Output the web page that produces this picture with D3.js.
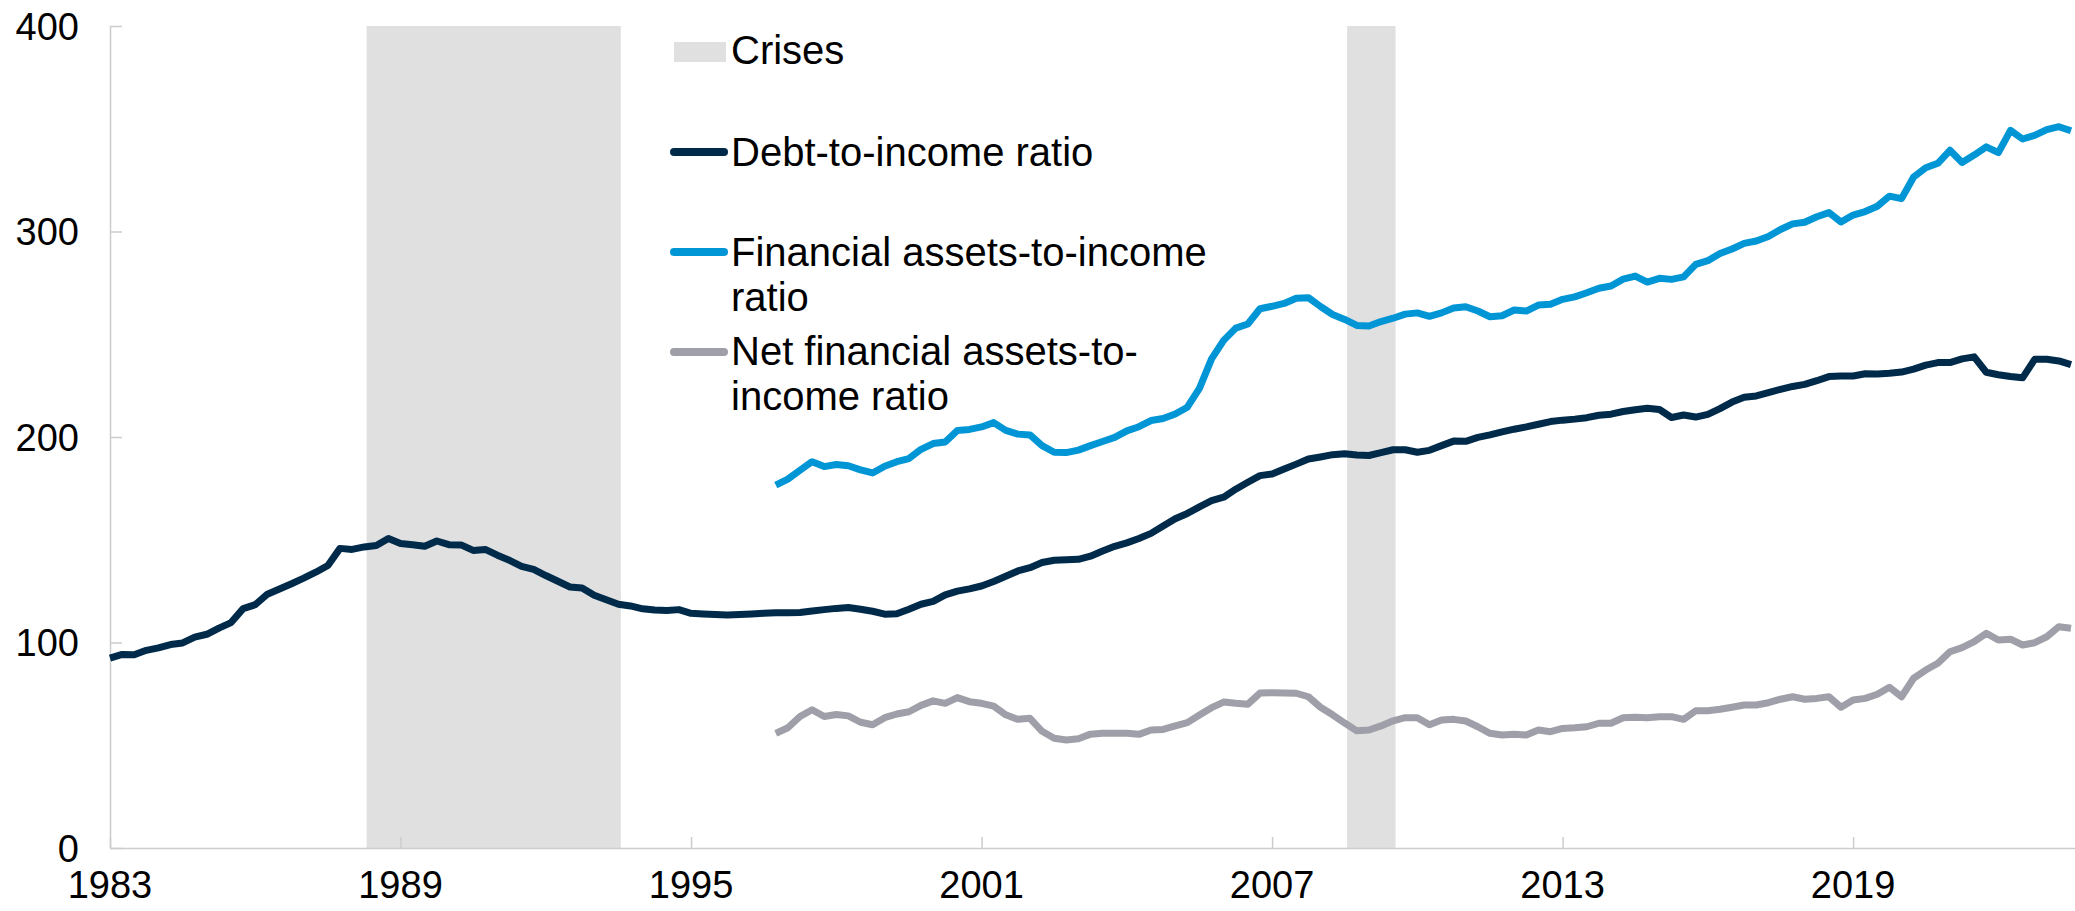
<!DOCTYPE html>
<html>
<head>
<meta charset="utf-8">
<script src="https://cdn.jsdelivr.net/npm/d3@7"></script>
<style>
  html, body { margin: 0; padding: 0; background: #ffffff; }
  svg { display: block; font-family: "Liberation Sans", Arial, Helvetica, sans-serif; }
</style>
</head>
<body>
<svg id="chart" width="2075" height="911"></svg>
<script>
// Household balance-sheet ratios, quarterly, per cent of disposable income
const firstYear = 1983;            // first quarter of the debt series (1983Q1)
const assetsFirstYear = 1996.75;   // first quarter of the asset series (1996Q4)

const debtToIncome = [
  92.4, 94.2, 94.0, 96.2, 97.4, 99.0, 99.8, 102.6, 104.0, 107.0, 109.7, 116.5,
  118.4, 123.5, 126.0, 128.6, 131.3, 134.2, 137.5, 145.8, 145.3, 146.5, 147.2, 150.6,
  148.2, 147.6, 146.8, 149.4, 147.6, 147.5, 144.8, 145.3, 142.5, 140.0, 137.0, 135.6,
  132.6, 129.8, 127.0, 126.5, 123.0, 120.8, 118.6, 117.8, 116.4, 115.8, 115.6, 116.0,
  114.2, 113.9, 113.6, 113.4, 113.6, 113.9, 114.2, 114.5, 114.5, 114.6, 115.3, 116.0,
  116.6, 117.0, 116.2, 115.2, 113.8, 114.0, 116.2, 118.6, 120.0, 123.2, 125.0, 126.1,
  127.5, 129.7, 132.2, 134.8, 136.4, 138.9, 140.0, 140.3, 140.5, 142.0, 144.5, 146.8,
  148.5, 150.6, 153.1, 156.7, 160.2, 162.8, 166.0, 169.0, 170.7, 174.6, 178.0, 181.2,
  182.0, 184.4, 186.8, 189.3, 190.3, 191.4, 191.8, 191.2, 191.0, 192.4, 193.8, 193.8,
  192.6, 193.5, 195.8, 198.0, 197.9, 199.8, 201.0, 202.5, 203.8, 204.9, 206.2, 207.5,
  208.2, 208.7, 209.4, 210.6, 211.1, 212.4, 213.3, 214.0, 213.4, 209.5, 210.7, 209.7,
  211.0, 213.8, 217.0, 219.3, 220.0, 221.6, 223.2, 224.6, 225.6, 227.4, 229.4, 229.7,
  229.7, 230.8, 230.7, 231.0, 231.6, 233.0, 235.0, 236.2, 236.2, 238.0, 239.0, 231.5,
  230.3, 229.4, 228.8, 237.8, 237.8, 237.0, 235.2
];

const financialAssetsToIncome = [
  176.6, 179.5, 183.8, 188.0, 185.6, 186.6, 186.0, 184.0, 182.5, 185.8, 188.0, 189.5,
  194.0, 196.8, 197.6, 203.2, 203.7, 204.9, 207.0, 203.2, 201.4, 201.0, 195.8, 192.6,
  192.4, 193.6, 195.8, 197.8, 199.8, 203.0, 205.0, 208.0, 209.0, 211.2, 214.5, 223.7,
  238.0, 247.0, 253.0, 255.0, 262.4, 263.6, 265.0, 267.5, 267.8, 263.5, 259.6, 257.2,
  254.3, 254.0, 256.2, 257.8, 259.8, 260.4, 258.7, 260.4, 262.8, 263.4, 261.3, 258.5,
  259.0, 261.8, 261.3, 264.2, 264.6, 267.0, 268.2, 270.2, 272.4, 273.5, 276.8, 278.3,
  275.4, 277.2, 276.7, 277.9, 284.0, 285.8, 289.3, 291.5, 294.2, 295.4, 297.6, 301.0,
  303.7, 304.5, 307.2, 309.2, 304.6, 308.0, 309.7, 312.3, 317.2, 316.0, 326.5, 331.0,
  333.2, 339.5, 333.6, 337.2, 341.2, 338.4, 349.2, 345.0, 346.8, 349.6, 351.0, 349.0
];

const netFinancialAssetsToIncome = [
  55.8, 58.5, 64.0, 67.3, 64.0, 65.0, 64.3, 61.2, 60.0, 63.4, 65.2, 66.3,
  69.4, 71.6, 70.4, 73.2, 71.2, 70.4, 69.0, 64.8, 62.6, 63.1, 56.8, 53.4,
  52.6, 53.2, 55.4, 55.8, 55.8, 55.8, 55.3, 57.4, 57.7, 59.4, 61.0, 64.7,
  68.3, 71.0, 70.4, 70.0, 75.4, 75.6, 75.4, 75.3, 73.6, 68.5, 64.8, 60.8,
  57.0, 57.4, 59.4, 61.9, 63.4, 63.4, 60.0, 62.3, 62.6, 61.8, 59.0, 55.8,
  55.0, 55.3, 55.0, 57.4, 56.6, 58.2, 58.5, 59.0, 60.7, 60.7, 63.4, 63.6,
  63.4, 63.9, 63.9, 62.6, 66.8, 66.8, 67.5, 68.5, 69.6, 69.6, 70.7, 72.4,
  73.6, 72.4, 72.8, 73.6, 68.5, 72.0, 72.8, 74.8, 78.2, 73.6, 82.6, 86.6,
  89.9, 95.5, 97.5, 100.4, 104.5, 101.2, 101.6, 98.8, 99.9, 102.8, 107.7, 106.9
];

// Crisis periods (decimal years)
const crisisStart = [1988.3, 2008.55];
const crisisEnd   = [1993.55, 2009.55];

const xTickYears = [1983, 1989, 1995, 2001, 2007, 2013, 2019];
const yTicks = [0, 100, 200, 300, 400];

const legendLabels = [
  ["Crises"],
  ["Debt-to-income ratio"],
  ["Financial assets-to-income", "ratio"],
  ["Net financial assets-to-", "income ratio"]
];

const colors = {
  crisis: "#e0e0e0",
  debt: "#002a4a",
  assets: "#0096d6",
  net: "#9e9fa8",
  axis: "#cccccc",
  text: "#000000"
};

// ---- layout ----
const plot = { left: 110, right: 2071, top: 26, bottom: 848 };
const lastYear = firstYear + (debtToIncome.length - 1) / 4;

const x = d3.scaleLinear().domain([firstYear, lastYear]).range([plot.left, plot.right]);
const y = d3.scaleLinear().domain([0, 400]).range([plot.bottom, plot.top]);

const svg = d3.select("#chart");

// crisis shading
svg.append("g").selectAll("rect")
  .data(crisisStart.map((s, i) => ({ s, e: crisisEnd[i] })))
  .join("rect")
  .attr("x", d => x(d.s))
  .attr("width", d => x(d.e) - x(d.s))
  .attr("y", y(400))
  .attr("height", y(0) - y(400))
  .attr("fill", colors.crisis);

// y axis (ticks pointing into the plot)
const yAxis = svg.append("g")
  .attr("transform", `translate(${plot.left},0)`)
  .call(d3.axisRight(y).tickValues(yTicks).tickSize(12).tickFormat(""));
yAxis.select(".domain").attr("stroke", colors.axis).attr("stroke-width", 1.5)
  .attr("d", `M0.5,${plot.top}V${plot.bottom}`);
yAxis.selectAll(".tick line").attr("stroke", colors.axis).attr("stroke-width", 1.5);

svg.append("g").selectAll("text")
  .data(yTicks)
  .join("text")
  .attr("x", 79)
  .attr("y", d => y(d))
  .attr("dy", "0.36em")
  .attr("text-anchor", "end")
  .attr("font-size", 38)
  .attr("fill", colors.text)
  .text(d => d);

// x axis (ticks pointing up)
const xAxis = svg.append("g")
  .attr("transform", `translate(0,${plot.bottom})`)
  .call(d3.axisTop(x).tickValues(xTickYears).tickSize(11).tickFormat(""));
xAxis.select(".domain").attr("stroke", colors.axis).attr("stroke-width", 1.5)
  .attr("d", `M${plot.left},0.5H${2075}`);
xAxis.selectAll(".tick line").attr("stroke", colors.axis).attr("stroke-width", 1.5);

svg.append("g").selectAll("text")
  .data(xTickYears)
  .join("text")
  .attr("x", d => x(d))
  .attr("y", 898)
  .attr("text-anchor", "middle")
  .attr("font-size", 38)
  .attr("fill", colors.text)
  .text(d => d);

// series lines
const line = d3.line()
  .x(d => x(d.t))
  .y(d => y(d.v));

const toPoints = (vals, start) => vals.map((v, i) => ({ t: start + i / 4, v }));

const series = [
  { data: toPoints(debtToIncome, firstYear), color: colors.debt },
  { data: toPoints(financialAssetsToIncome, assetsFirstYear), color: colors.assets },
  { data: toPoints(netFinancialAssetsToIncome, assetsFirstYear), color: colors.net }
];

svg.append("g").selectAll("path")
  .data(series)
  .join("path")
  .attr("d", d => line(d.data))
  .attr("fill", "none")
  .attr("stroke", d => d.color)
  .attr("stroke-width", 7)
  .attr("stroke-linejoin", "round");

// legend
const legend = svg.append("g").attr("font-size", 40).attr("fill", colors.text);
legend.append("rect")
  .attr("x", 674).attr("y", 42).attr("width", 52).attr("height", 20)
  .attr("fill", colors.crisis);

const legendLines = [
  { y: 152, color: colors.debt },
  { y: 252, color: colors.assets },
  { y: 352, color: colors.net }
];
legend.selectAll("line")
  .data(legendLines)
  .join("line")
  .attr("x1", 674).attr("x2", 724)
  .attr("y1", d => d.y).attr("y2", d => d.y)
  .attr("stroke", d => d.color)
  .attr("stroke-width", 8)
  .attr("stroke-linecap", "round");

const legendBaselines = [64, 166, 266, 365];
legend.selectAll("text")
  .data(legendLabels)
  .join("text")
  .attr("x", 731)
  .attr("y", (d, i) => legendBaselines[i])
  .each(function (lines) {
    d3.select(this).selectAll("tspan")
      .data(lines)
      .join("tspan")
      .attr("x", 731)
      .attr("dy", (l, j) => j === 0 ? 0 : 45)
      .text(l => l);
  });
</script>
</body>
</html>
